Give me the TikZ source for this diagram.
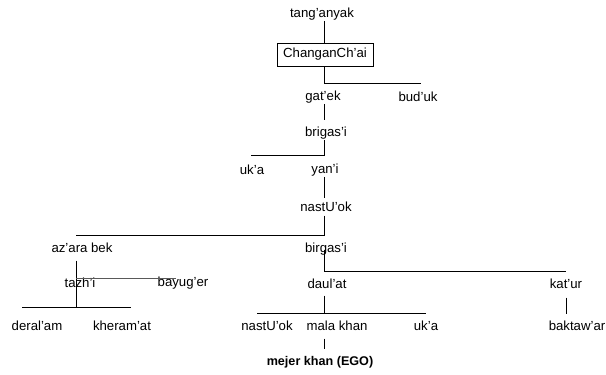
\documentclass[tikz,border=0pt]{standalone}
\usepackage{fontspec}
\setmainfont{Liberation Sans}
\usetikzlibrary{calc}

\begin{document}
\begin{tikzpicture}[x=1pt,y=-1pt,
  kin/.style={font=\fontsize{13.2}{15}\selectfont,inner sep=0.5pt},
  tie/.style={line width=0.8pt}]
\useasboundingbox (0,0) rectangle (606,375);

% Top of the line
\node[kin] (tang) at (322,14) {tang'anyak};
\node[kin,draw,minimum width=96pt,minimum height=23pt] (chang) at (325,54.5) {ChanganCh'ai};
\node[kin] (gatek) at (323,97) {gat'ek};
\node[kin] (buduk) at (418,97) {bud'uk};
\coordinate (spine1) at (324,83);
\coordinate (bar1) at (421,83);
\draw[tie] (tang.south -| spine1) -- (chang.north -| spine1);
\draw[tie] (chang.south -| spine1) -- (spine1) -- (bar1);

% brigas'i and yan'i
\node[kin] (brigasi) at (326,133) {brigas'i};
\node[kin] (uka) at (252,170) {uk'a};
\node[kin] (yani) at (325,170) {yan'i};
\coordinate (spine2) at (324,155);
\coordinate (bar2) at (251,155);
\draw[tie,shorten >=6pt] (gatek.south -| spine1) -- (brigasi.north -| spine1);
\draw[tie] (brigasi.south -| spine2) -- (spine2) -- (bar2);

% nastU'ok
\node[kin] (nastuok) at (326,207) {nastU'ok};
\node[kin] (azara) at (82,248) {az'ara bek};
\node[kin] (birgasi) at (326,249) {birgas'i};
\coordinate (spine3) at (324,235);
\coordinate (bar3) at (76,235);
\draw[tie,shorten >=3pt] (yani.south -| spine2) -- (nastuok.north -| spine2);
\draw[tie,shorten <=3pt] (nastuok.south -| spine3) -- (spine3) -- (bar3);

% az'ara bek branch
\node[kin] (tazhi) at (80,283) {tazh'i};
\node[kin] (bayuger) at (183,283) {bayug'er};
\node[kin] (deralam) at (37,326) {deral'am};
\node[kin] (kheramat) at (122,326) {kheram'at};
\coordinate (fork) at (76,307);
\coordinate (tazhbar) at (176,278);
\coordinate (barL) at (22,307);
\coordinate (barR) at (131,307);
\draw[tie,shorten <=7pt] (azara.south -| fork) -- (fork);
\draw[tie,black!65] (fork |- tazhbar) -- (tazhbar);
\draw[tie] (barL) -- (barR);

% birgas'i branch
\node[kin] (daulat) at (327,284) {daul'at};
\node[kin] (katur) at (566,284) {kat'ur};
\coordinate (spine4) at (324,271);
\coordinate (bar4) at (566,271);
\draw[tie] (birgasi.mid -| spine4) -- (spine4) -- (bar4);

% daul'at and kat'ur
\node[kin] (nastuok2) at (267,326) {nastU'ok};
\node[kin] (malakhan) at (337,326) {mala khan};
\node[kin] (uka2) at (426,326) {uk'a};
\node[kin] (baktawar) at (577,326) {baktaw'ar};
\coordinate (spine5) at (324,313);
\coordinate (bar5L) at (257,313);
\coordinate (bar5R) at (426,313);
\draw[tie,shorten <=6pt] (daulat.south -| spine5) -- (spine5);
\draw[tie] (bar5L) -- (bar5R);
\draw[tie,shorten <=8pt,shorten >=6pt] (katur.south -| bar4) -- (baktawar.north -| bar4);

% Ego
\node[kin,font=\fontsize{12.6}{15}\selectfont\bfseries] (ego) at (320,362) {mejer khan (EGO)};
\draw[tie,shorten <=7pt,shorten >=6pt] (malakhan.south -| spine5) -- (ego.north -| spine5);
\end{tikzpicture}
\end{document}
